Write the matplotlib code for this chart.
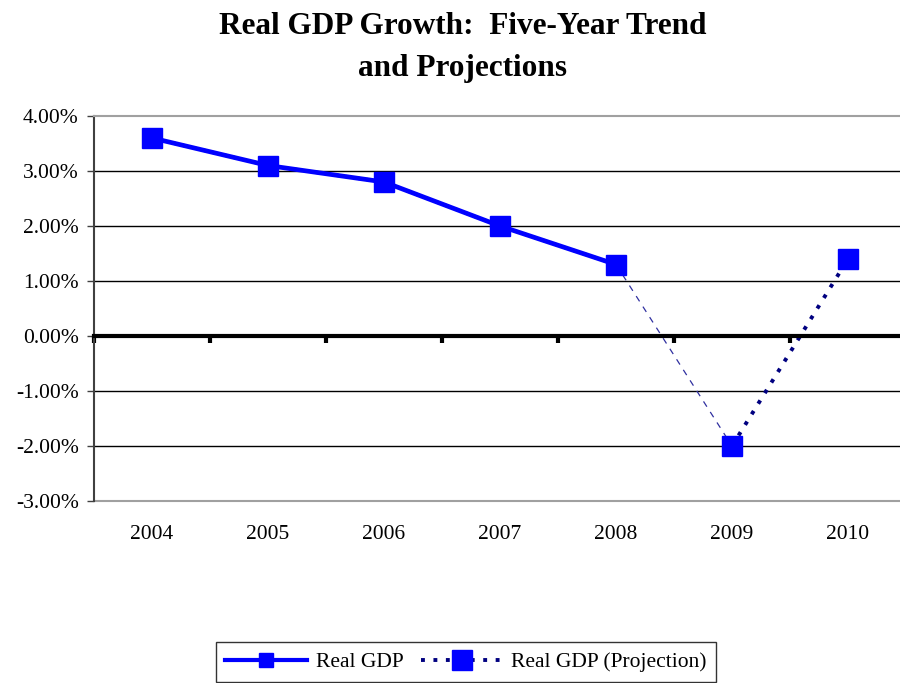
import numpy as np
import matplotlib.pyplot as plt
from matplotlib.lines import Line2D
from matplotlib.ticker import FuncFormatter

plt.rcParams['font.family'] = ['Liberation Serif', 'DejaVu Serif']

years = ['2004', '2005', '2006', '2007', '2008', '2009', '2010']
real_gdp = [3.6, 3.1, 2.8, 2.0, 1.3, np.nan, np.nan]
projection = [3.6, 3.1, 2.8, 2.0, 1.3, -2.0, 1.4]

x = np.arange(len(years))
blue = '#0000FF'
navy = '#000080'

fig = plt.figure(figsize=(9, 6.83), dpi=100)
ax = fig.add_axes([94 / 900, 1 - 501 / 683, 812 / 900, 385 / 683])

# gridlines
for v in range(-2, 4):
    ax.axhline(v, color='black', lw=1.0, zorder=1)

# projection: dotted under the actuals, thin dashed into 2009, dotted back up
ax.plot(x[:5], projection[:5], color=navy, lw=2.5, ls=(0, (1, 2)), zorder=2)
ax.plot(x[4:6], projection[4:6], color='#3030A0', lw=0.9, ls=(0, (5, 5)), zorder=2)
ax.plot(x[5:], projection[5:], color=navy, lw=2.8, ls=(0, (1, 2.2)), zorder=2)
ax.plot(x[5:], projection[5:], ls='none', marker='s', ms=15, color=blue, zorder=4)

ax.plot(x, real_gdp, color=blue, lw=3.4, marker='s', ms=15, zorder=3)

ax.set_xlim(-0.5, len(years) - 0.5)
ax.set_ylim(-3, 4)

# zero axis with category boundary ticks
ax.spines['bottom'].set_position(('data', 0))
ax.spines['bottom'].set_linewidth(3)
ax.spines['bottom'].set_color('black')
ax.spines['bottom'].set_zorder(2.5)
ax.set_xticks(np.arange(len(years) + 1) - 0.5)
ax.tick_params(axis='x', direction='out', length=5, width=3, labelbottom=False)

# category labels along the bottom of the plot area
sec = ax.secondary_xaxis('bottom')
sec.set_xticks(x)
sec.set_xticklabels(years)
sec.tick_params(length=0, pad=17, labelsize=15.5)
sec.spines['bottom'].set_color('#A0A0A0')
sec.spines['bottom'].set_linewidth(1.5)

ax.spines['top'].set_color('#A0A0A0')
ax.spines['top'].set_linewidth(1.5)
ax.spines['right'].set_visible(False)
ax.spines['left'].set_color('#404040')
ax.spines['left'].set_linewidth(1.5)

ax.set_yticks(range(-3, 5))
ax.yaxis.set_major_formatter(FuncFormatter(lambda v, p: f'{v:.2f}%'))
ax.tick_params(axis='y', direction='out', length=5, width=1, color='#404040',
               labelsize=15.5, pad=6)

fig.text(0.514, 0.931, 'Real GDP Growth:  Five-Year Trend\nand Projections',
         ha='center', va='center', fontsize=22.5, fontweight='bold',
         linespacing=1.58)

handles = [
    Line2D([], [], color=blue, lw=3, marker='s', ms=10),
    Line2D([], [], color=navy, lw=2.8, ls=(0, (1, 2.2)), marker='s', ms=15,
           markerfacecolor=blue, markeredgecolor=blue),
]
leg = fig.legend(handles, ['Real GDP', 'Real GDP (Projection)'],
                 loc='center', bbox_to_anchor=(466 / 900, 1 - 662 / 683),
                 ncol=2, frameon=True, fancybox=False, fontsize=15.5,
                 handlelength=3.8, columnspacing=0.8, handletextpad=0.4,
                 borderpad=0.45, edgecolor='black')
leg.get_frame().set_linewidth(1.0)

fig.savefig('out.png', dpi=100)
